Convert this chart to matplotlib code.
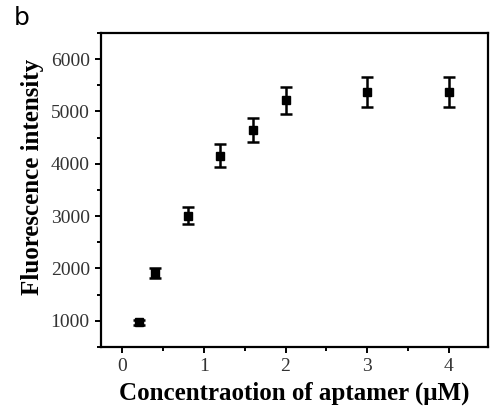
import matplotlib
matplotlib.use("Agg")
import matplotlib.pyplot as plt
from matplotlib.ticker import MultipleLocator

conc = [0.2, 0.4, 0.8, 1.2, 1.6, 2.0, 3.0, 4.0]
intensity = [970, 1910, 3010, 4150, 4640, 5210, 5370, 5370]
errors = [50, 90, 160, 220, 230, 260, 285, 285]

plt.rcParams['font.family'] = ['Liberation Serif', 'DejaVu Serif']

fig = plt.figure(figsize=(4.9, 4.16), dpi=100)
ax = fig.add_axes([0.206, 0.166, 0.79, 0.755])

ax.errorbar(conc, intensity, yerr=errors, fmt='s', color='black', ms=5.5,
            capsize=4.5, elinewidth=1.8, capthick=1.8)

ax.set_xlim(-0.26, 4.48)
ax.set_ylim(500, 6500)
ax.xaxis.set_major_locator(MultipleLocator(1))
ax.xaxis.set_minor_locator(MultipleLocator(0.5))
ax.yaxis.set_major_locator(MultipleLocator(1000))
ax.yaxis.set_minor_locator(MultipleLocator(500))
ax.set_yticks([1000, 2000, 3000, 4000, 5000, 6000])

for s in ax.spines.values():
    s.set_linewidth(1.6)
ax.tick_params(which='both', direction='out', width=1.4, top=False, right=False,
               labelsize=14, colors='black')
ax.tick_params(which='major', length=4, pad=4)
ax.tick_params(which='minor', length=3)
for lab in ax.get_xticklabels() + ax.get_yticklabels():
    lab.set_color('#333333')

ax.set_xlabel('Concentraotion of aptamer (\u03bcM)', fontsize=18, fontweight='bold', labelpad=5)
ax.set_ylabel('Fluorescence intensity', fontsize=18, fontweight='bold')
ax.yaxis.set_label_coords(-0.148, 0.54)

fig.text(0.028, 0.985, 'b', fontsize=18, family='DejaVu Sans', va='top', ha='left')

fig.savefig('out.png', dpi=100)
